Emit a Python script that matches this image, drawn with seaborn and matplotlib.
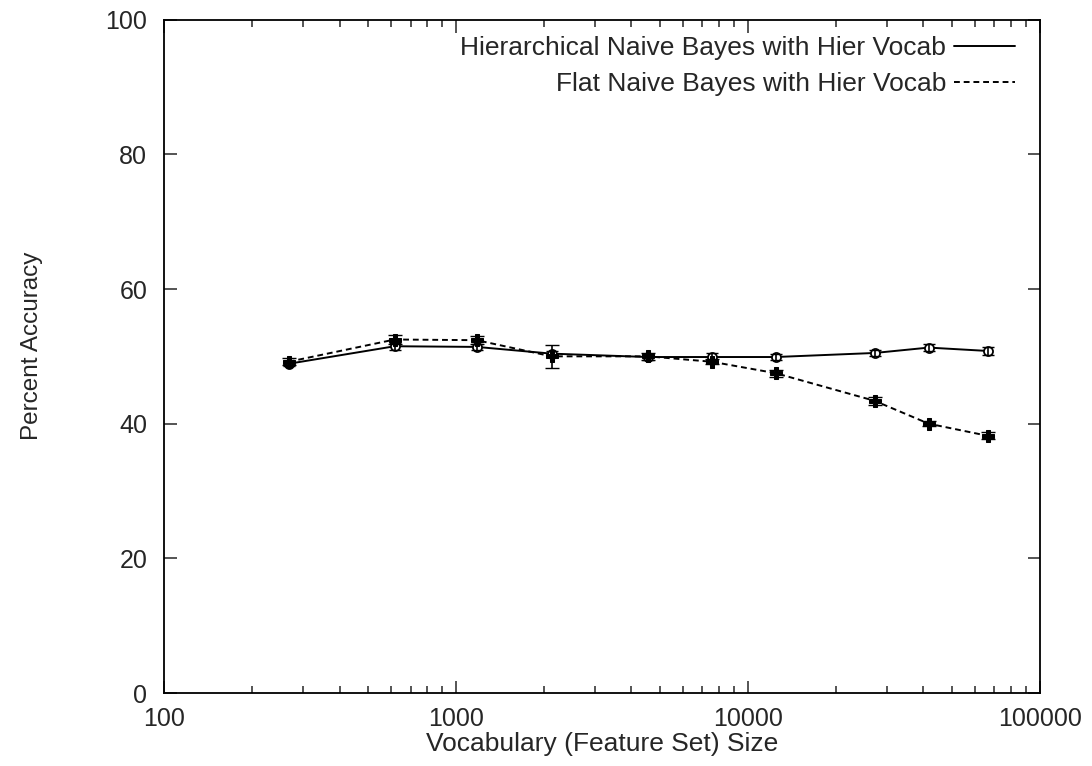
import numpy as np
import pandas as pd
import seaborn as sns
import matplotlib
matplotlib.use('Agg')
import matplotlib.pyplot as plt
from matplotlib.ticker import LogLocator, NullFormatter, FixedLocator

# vocabulary sizes (feature set)
vocab = [268, 618, 1180, 2130, 4550, 7530, 12470, 27200, 41700, 66400]
# percent accuracy
hier_acc = [48.9, 51.5, 51.4, 50.4, 49.9, 49.9, 49.9, 50.5, 51.3, 50.8]
flat_acc = [49.2, 52.5, 52.4, 50.0, 50.0, 49.2, 47.5, 43.4, 40.0, 38.2]
# error bar half widths
hier_err = [0.4, 0.5, 0.5, 0.4, 0.5, 0.6, 0.5, 0.5, 0.5, 0.6]
flat_err = [0.5, 0.6, 0.6, 1.7, 0.5, 0.4, 0.5, 0.6, 0.4, 0.5]

hier_label = 'Hierarchical Naive Bayes with Hier Vocab'
flat_label = 'Flat Naive Bayes with Hier Vocab'

df = pd.DataFrame({
    'vocab': vocab * 2,
    'acc': hier_acc + flat_acc,
    'err': hier_err + flat_err,
    'model': [hier_label] * len(vocab) + [flat_label] * len(vocab),
})

sns.set_style('ticks')
plt.rcParams['font.family'] = ['Liberation Sans', 'DejaVu Sans']
plt.rcParams['xtick.direction'] = 'in'
plt.rcParams['ytick.direction'] = 'in'

fig = plt.figure(figsize=(10.92, 7.66), dpi=100)
ax = fig.add_axes([0.150, 0.0953, 0.802, 0.879])

hier = df[df['model'] == hier_label]
flat = df[df['model'] == flat_label]

sns.lineplot(data=hier, x='vocab', y='acc', ax=ax, color='black', lw=1.4,
             marker='o', markersize=6.5, markerfacecolor='white',
             markeredgecolor='black', markeredgewidth=1.3, label=hier_label)
sns.lineplot(data=flat, x='vocab', y='acc', ax=ax, color='black', lw=1.4,
             dashes=(3, 2), marker='P', markersize=9,
             markeredgecolor='black', markerfacecolor='black', label=flat_label)

ax.errorbar(hier['vocab'], hier['acc'], yerr=hier['err'], fmt='none',
            ecolor='black', elinewidth=1.2, capsize=4)
ax.errorbar(flat['vocab'], flat['acc'], yerr=flat['err'], fmt='none',
            ecolor='black', elinewidth=1.2, capsize=5)

ax.set_xscale('log')
ax.set_xlim(100, 100000)
ax.set_ylim(0, 100)
ax.xaxis.set_major_locator(FixedLocator([100, 1000, 10000, 100000]))
ax.set_xticklabels(['100', '1000', '10000', '100000'])
ax.xaxis.set_minor_locator(LogLocator(base=10, subs=np.arange(2, 10)))
ax.xaxis.set_minor_formatter(NullFormatter())
ax.set_yticks([0, 20, 40, 60, 80, 100])

ax.tick_params(axis='both', which='major', length=9, width=1.1,
               top=True, right=True, labelsize=18)
ax.tick_params(axis='x', which='major', pad=10)
ax.tick_params(axis='y', which='major', pad=12)
ax.tick_params(axis='x', which='minor', length=5, width=1.1, top=True)
for s in ax.spines.values():
    s.set_linewidth(1.3)
    s.set_color('black')

ax.set_xlabel('Vocabulary (Feature Set) Size', fontsize=19, labelpad=1)
ax.set_ylabel('Percent Accuracy', fontsize=17.5)
ax.yaxis.set_label_coords(-0.138, 0.515)

handles = [plt.Line2D([], [], color='black', lw=1.4),
           plt.Line2D([], [], color='black', lw=1.4, dashes=(3, 2))]
ax.legend(handles, [hier_label, flat_label], loc='upper right', frameon=False,
          bbox_to_anchor=(1.0, 1.013),
          markerfirst=False, fontsize=19, handlelength=2.3, handletextpad=0.3,
          labelspacing=0.45, borderaxespad=0.7, borderpad=0.25)

fig.savefig('out.png', dpi=100)
